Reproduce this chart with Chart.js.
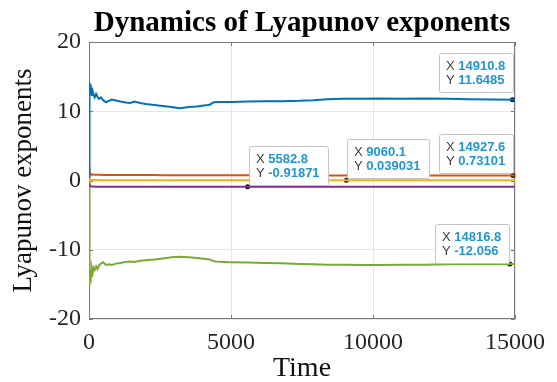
<!DOCTYPE html>
<html>
<head>
<meta charset="utf-8">
<script src="https://cdn.jsdelivr.net/npm/chart.js@4.4.0/dist/chart.umd.min.js"></script>
<style>
  html, body { margin: 0; padding: 0; background: #fff; }
  #wrap { width: 557px; height: 382px; }
</style>
</head>
<body>
<div id="wrap"><canvas id="lyap" width="557" height="382"></canvas></div>
<script>
// ── Data ─────────────────────────────────────────────────
const time = [0, 10, 25, 40, 60, 80, 100, 130, 160, 200,
  250, 300, 350, 420, 500, 600, 700, 800, 950, 1100,
  1300, 1450, 1600, 1800, 2000, 2300, 2600, 2900, 3200, 3500,
  3800, 4100, 4250, 4400, 4600, 5000, 5600, 6200, 6800, 7400,
  7900, 8400, 9000, 9600, 10200, 11000, 11800, 12600, 13400, 14200,
  15000];

const lambda1 = [0.5, 14.2, 12.3, 13.9, 12.6, 13.4, 12.2, 12.9, 12.4, 12.0,
  12.5, 12.1, 11.8, 12.0, 11.6, 11.3, 11.5, 11.7, 11.55, 11.4,
  11.25, 11.2, 11.4, 11.2, 11.05, 10.9, 10.75, 10.6, 10.45, 10.6,
  10.7, 10.85, 10.95, 11.3, 11.35, 11.35, 11.4, 11.45, 11.45, 11.5,
  11.6, 11.75, 11.8, 11.8, 11.85, 11.8, 11.85, 11.8, 11.75, 11.7,
  11.65];

const lambda2 = [1.9, 1.5, 1.2, 1.05, 0.95, 0.9, 0.88, 0.86, 0.85, 0.84,
  0.83, 0.83, 0.82, 0.82, 0.81, 0.81, 0.8, 0.8, 0.8, 0.79,
  0.79, 0.79, 0.78, 0.78, 0.78, 0.78, 0.77, 0.77, 0.77, 0.77,
  0.76, 0.76, 0.76, 0.76, 0.76, 0.75, 0.75, 0.75, 0.75, 0.74,
  0.74, 0.74, 0.74, 0.74, 0.74, 0.73, 0.73, 0.73, 0.73, 0.73,
  0.73];

const lambda3 = [0.35, 0.25, 0.15, 0.12, 0.1, 0.09, 0.08, 0.07, 0.07, 0.06,
  0.06, 0.06, 0.05, 0.05, 0.05, 0.05, 0.05, 0.05, 0.05, 0.05,
  0.045, 0.045, 0.045, 0.045, 0.045, 0.045, 0.045, 0.04, 0.04, 0.04,
  0.04, 0.04, 0.04, 0.04, 0.04, 0.04, 0.04, 0.04, 0.04, 0.04,
  0.04, 0.04, 0.04, 0.039, 0.039, 0.039, 0.039, 0.039, 0.039, 0.039,
  0.039];

const lambda4 = [-0.3, -0.55, -0.7, -0.78, -0.82, -0.85, -0.86, -0.87, -0.88, -0.88,
  -0.89, -0.89, -0.89, -0.9, -0.9, -0.9, -0.9, -0.9, -0.9, -0.91,
  -0.91, -0.91, -0.91, -0.91, -0.91, -0.91, -0.91, -0.91, -0.91, -0.91,
  -0.91, -0.92, -0.92, -0.92, -0.92, -0.92, -0.92, -0.92, -0.92, -0.92,
  -0.92, -0.92, -0.92, -0.92, -0.92, -0.92, -0.92, -0.92, -0.92, -0.92,
  -0.92];

const lambda5 = [-0.5, -15.3, -12.8, -14.6, -12.9, -13.8, -12.7, -13.3, -12.6, -12.9,
  -12.4, -12.8, -12.3, -12.0, -11.8, -12.2, -12.1, -12.2, -12.0, -11.9,
  -11.75, -11.7, -11.75, -11.6, -11.5, -11.4, -11.25, -11.1, -11.0, -11.1,
  -11.2, -11.35, -11.4, -11.65, -11.75, -11.8, -11.85, -11.9, -11.95, -12.05,
  -12.1, -12.15, -12.15, -12.2, -12.2, -12.15, -12.15, -12.1, -12.1, -12.08,
  -12.05];

// data tips
const tipX = [14910.8, 5582.8, 9060.1, 14927.6, 14816.8];
const tipY = [11.6485, -0.91871, 0.039031, 0.73101, -12.056];

const xTicks = [0, 5000, 10000, 15000];
const yTicks = [-20, -10, 0, 10, 20];

// ── Styles ──────────────────────────────────────────────
const colors = ["#0072BD", "#D95319", "#EDB120", "#7E2F8E", "#77AC30"];
const serif = "'Liberation Serif', 'Times New Roman', serif";
const sans = "'Liberation Sans', Arial, sans-serif";

// where each tip box sits relative to its point
const tipLayout = [
  { side: "left",  dx: 1,  lift: 8 },
  { side: "right", dx: 1,  lift: 2 },
  { side: "right", dx: 1,  lift: 2 },
  { side: "left",  dx: 0,  lift: 2 },
  { side: "left",  dx: -1, lift: 1 }
];

const series = [lambda1, lambda2, lambda3, lambda4, lambda5];
const toPoints = vals => time.map((t, i) => ({ x: t, y: vals[i] }));

// ── Frame + inward ticks (MATLAB box) ───────────────────
const framePlugin = {
  id: "frame",
  beforeDatasetsDraw(chart) {
    const { ctx, chartArea: a, scales: { x, y } } = chart;
    ctx.save();
    ctx.strokeStyle = "#7a7a7a";
    ctx.lineWidth = 1;
    ctx.beginPath();
    ctx.rect(a.left + 0.5, a.top + 0.5, a.right - a.left - 1, a.bottom - a.top - 1);
    xTicks.forEach(v => {
      const px = Math.round(x.getPixelForValue(v)) + 0.5;
      ctx.moveTo(px, a.bottom); ctx.lineTo(px, a.bottom - 4);
      ctx.moveTo(px, a.top); ctx.lineTo(px, a.top + 4);
    });
    yTicks.forEach(v => {
      const py = Math.round(y.getPixelForValue(v)) + 0.5;
      ctx.moveTo(a.left, py); ctx.lineTo(a.left + 4, py);
      ctx.moveTo(a.right, py); ctx.lineTo(a.right - 4, py);
    });
    ctx.stroke();
    ctx.restore();
  }
};

// ── Data tip boxes ──────────────────────────────────────
const tipPlugin = {
  id: "datatips",
  afterDatasetsDraw(chart) {
    const { ctx, scales: { x, y } } = chart;
    ctx.save();
    tipX.forEach((tx, i) => {
      const px = x.getPixelForValue(tx);
      const py = y.getPixelForValue(tipY[i]);
      const lines = [["X", String(tx)], ["Y", String(tipY[i])]];

      ctx.font = "bold 13px " + sans;
      const valW = Math.max(...lines.map(l => ctx.measureText(l[1]).width));
      ctx.font = "13px " + sans;
      const keyW = ctx.measureText("X ").width;
      const w = Math.round(keyW + valW + 15);
      const h = 39;

      const lay = tipLayout[i];
      const left = lay.side === "left" ? Math.round(px + lay.dx - w) : Math.round(px + lay.dx);
      const top = Math.round(py - lay.lift - h);

      ctx.fillStyle = "#ffffff";
      ctx.strokeStyle = "#c4c4c4";
      ctx.lineWidth = 1;
      ctx.beginPath();
      ctx.roundRect(left + 0.5, top + 0.5, w, h, 2);
      ctx.fill();
      ctx.stroke();

      ctx.textBaseline = "middle";
      ctx.textAlign = "left";
      lines.forEach((l, k) => {
        const ly = top + 13.5 + k * 14;
        ctx.font = "13px " + sans;
        ctx.fillStyle = "#3c3c3c";
        ctx.fillText(l[0], left + 7, ly);
        ctx.font = "bold 13px " + sans;
        ctx.fillStyle = "#2196d3";
        ctx.fillText(l[1], left + 7 + keyW, ly);
      });
    });
    ctx.restore();
  }
};

// ── Chart ───────────────────────────────────────────────
const datasets = series.map((vals, i) => ({
  label: "λ" + (i + 1),
  data: toPoints(vals),
  borderColor: colors[i],
  backgroundColor: colors[i],
  borderWidth: 2,
  pointRadius: 0,
  tension: 0,
  fill: false
}));

datasets.push({
  type: "scatter",
  label: "tips",
  data: tipX.map((tx, i) => ({ x: tx, y: tipY[i] })),
  pointRadius: 2.5,
  pointBackgroundColor: "#111",
  pointBorderColor: "#111",
  borderWidth: 0,
  clip: false
});

new Chart(document.getElementById("lyap"), {
  type: "line",
  data: { datasets },
  plugins: [framePlugin, tipPlugin],
  options: {
    responsive: false,
    animation: false,
    devicePixelRatio: 1,
    layout: { padding: { left: 0, right: 42, top: 0, bottom: 0 } },
    plugins: {
      legend: { display: false },
      tooltip: { enabled: false },
      title: {
        display: true,
        fullSize: false,
        text: "Dynamics of Lyapunov exponents",
        color: "#000",
        font: { family: serif, size: 29, weight: "bold", lineHeight: 1.2 },
        padding: { top: 6, bottom: 1.2 }
      }
    },
    scales: {
      x: {
        type: "linear",
        min: 0,
        max: 15000,
        afterFit: s => { s.height = 63; },
        afterBuildTicks: s => { s.ticks = xTicks.map(v => ({ value: v })); },
        ticks: {
          color: "#262626",
          font: { family: serif, size: 24 },
          padding: 9,
          maxRotation: 0,
          callback: v => String(v)
        },
        grid: { color: "#e6e6e6", drawTicks: false },
        border: { display: false },
        title: {
          display: true,
          text: "Time",
          color: "#111",
          font: { family: serif, size: 28, lineHeight: 0.95 },
          padding: { top: 0, bottom: 0 }
        }
      },
      y: {
        min: -20,
        max: 20,
        afterFit: s => { s.width = 89; },
        afterBuildTicks: s => { s.ticks = yTicks.map(v => ({ value: v })); },
        ticks: {
          color: "#262626",
          font: { family: serif, size: 24 },
          padding: 8,
          callback: v => String(v)
        },
        grid: { color: "#e6e6e6", drawTicks: false },
        border: { display: false },
        title: {
          display: true,
          text: "Lyapunov exponents",
          color: "#111",
          font: { family: serif, size: 27, lineHeight: 1.2 },
          padding: { top: 8, bottom: 0 }
        }
      }
    }
  }
});
</script>
</body>
</html>
